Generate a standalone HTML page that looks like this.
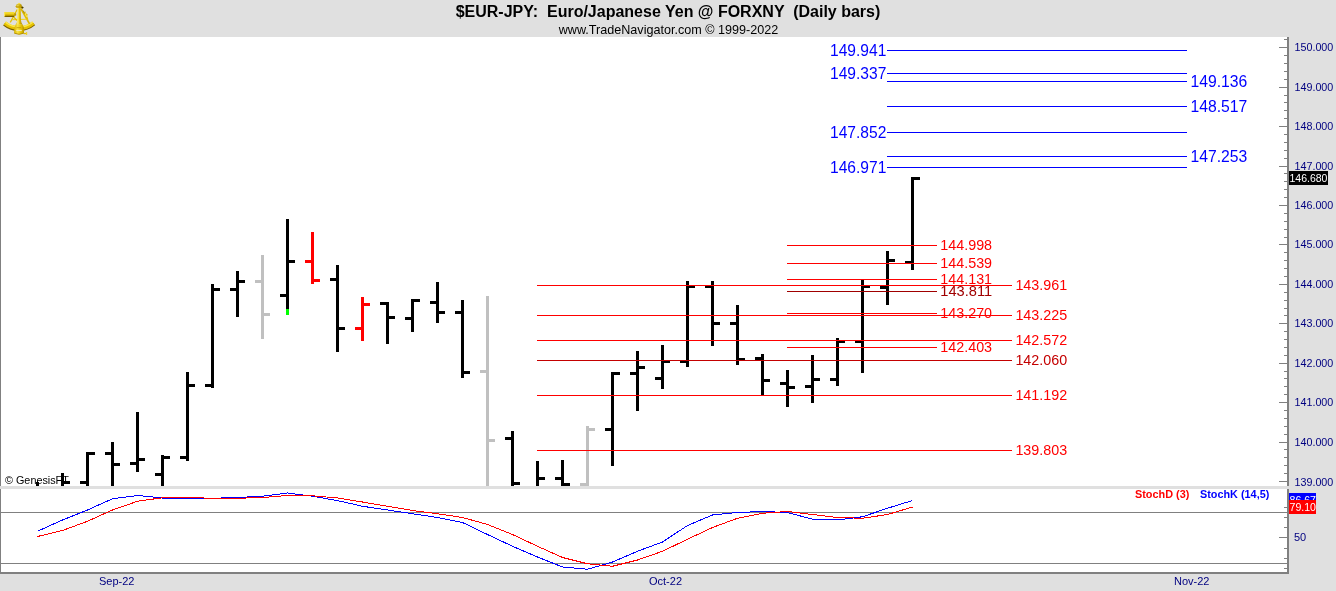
<!DOCTYPE html>
<html lang="en"><head><meta charset="utf-8"><title>$EUR-JPY: Euro/Japanese Yen @ FORXNY (Daily bars)</title>
<style>html,body{margin:0;padding:0;background:#e0e0e0;overflow:hidden}svg{display:block}text{font-family:"Liberation Sans", Arial, sans-serif}</style></head><body>
<svg width="1336" height="591" viewBox="0 0 1336 591">
<rect x="0" y="0" width="1336" height="591" fill="#e0e0e0"/>
<rect x="0" y="37" width="1288" height="536" fill="#fff"/>
<g shape-rendering="crispEdges">
<rect x="0" y="37" width="1" height="537" fill="#808080"/>
<rect x="1" y="512" width="1286" height="1" fill="#808080"/>
<rect x="1" y="563" width="1286" height="1" fill="#808080"/>
<g fill="#000">
<rect x="36" y="482" width="3" height="4"/>
</g>
<g fill="#000">
<rect x="61" y="473" width="3" height="13"/>
<rect x="64" y="481" width="6" height="3"/>
</g>
<g fill="#000">
<rect x="86" y="452" width="3" height="34"/>
<rect x="80" y="481" width="6" height="3"/>
<rect x="89" y="452" width="6" height="3"/>
</g>
<g fill="#000">
<rect x="111" y="442" width="3" height="44"/>
<rect x="105" y="452" width="6" height="3"/>
<rect x="114" y="463" width="6" height="3"/>
</g>
<g fill="#000">
<rect x="136" y="412" width="3" height="60"/>
<rect x="130" y="462" width="6" height="3"/>
<rect x="139" y="458" width="6" height="3"/>
</g>
<g fill="#000">
<rect x="161" y="455" width="3" height="31"/>
<rect x="155" y="473" width="6" height="3"/>
<rect x="164" y="456" width="6" height="3"/>
</g>
<g fill="#000">
<rect x="186" y="372" width="3" height="89"/>
<rect x="180" y="456" width="6" height="3"/>
<rect x="189" y="384" width="6" height="3"/>
</g>
<g fill="#000">
<rect x="211" y="284" width="3" height="104"/>
<rect x="205" y="384" width="6" height="3"/>
<rect x="214" y="288" width="6" height="3"/>
</g>
<g fill="#000">
<rect x="236" y="271" width="3" height="46"/>
<rect x="230" y="288" width="6" height="3"/>
<rect x="239" y="280" width="6" height="3"/>
</g>
<g fill="#c0c0c0">
<rect x="261" y="255" width="3" height="84"/>
<rect x="255" y="280" width="6" height="3"/>
<rect x="264" y="313" width="6" height="3"/>
</g>
<g fill="#000">
<rect x="286" y="219" width="3" height="96"/>
<rect x="280" y="294" width="6" height="3"/>
<rect x="289" y="260" width="6" height="3"/>
</g>
<g fill="#f00">
<rect x="311" y="232" width="3" height="52"/>
<rect x="305" y="260" width="6" height="3"/>
<rect x="314" y="279" width="6" height="3"/>
</g>
<g fill="#000">
<rect x="336" y="265" width="3" height="87"/>
<rect x="330" y="278" width="6" height="3"/>
<rect x="339" y="327" width="6" height="3"/>
</g>
<g fill="#f00">
<rect x="361" y="297" width="3" height="44"/>
<rect x="355" y="327" width="6" height="3"/>
<rect x="364" y="303" width="6" height="3"/>
</g>
<g fill="#000">
<rect x="386" y="302" width="3" height="42"/>
<rect x="380" y="302" width="6" height="3"/>
<rect x="389" y="316" width="6" height="3"/>
</g>
<g fill="#000">
<rect x="411" y="299" width="3" height="33"/>
<rect x="405" y="317" width="6" height="3"/>
<rect x="414" y="299" width="6" height="3"/>
</g>
<g fill="#000">
<rect x="436" y="282" width="3" height="41"/>
<rect x="430" y="301" width="6" height="3"/>
<rect x="439" y="311" width="6" height="3"/>
</g>
<g fill="#000">
<rect x="461" y="300" width="3" height="78"/>
<rect x="455" y="311" width="6" height="3"/>
<rect x="464" y="371" width="6" height="3"/>
</g>
<g fill="#c0c0c0">
<rect x="486" y="296" width="3" height="190"/>
<rect x="480" y="370" width="6" height="3"/>
<rect x="489" y="439" width="6" height="3"/>
</g>
<g fill="#000">
<rect x="511" y="431" width="3" height="55"/>
<rect x="505" y="437" width="6" height="3"/>
<rect x="514" y="482" width="6" height="3"/>
</g>
<g fill="#000">
<rect x="536" y="461" width="3" height="25"/>
<rect x="539" y="477" width="6" height="3"/>
</g>
<g fill="#000">
<rect x="561" y="460" width="3" height="26"/>
<rect x="555" y="477" width="6" height="3"/>
<rect x="564" y="483" width="6" height="3"/>
</g>
<g fill="#c0c0c0">
<rect x="586" y="426" width="3" height="60"/>
<rect x="580" y="483" width="6" height="3"/>
<rect x="589" y="428" width="6" height="3"/>
</g>
<g fill="#000">
<rect x="611" y="372" width="3" height="94"/>
<rect x="605" y="428" width="6" height="3"/>
<rect x="614" y="372" width="6" height="3"/>
</g>
<g fill="#000">
<rect x="636" y="351" width="3" height="60"/>
<rect x="630" y="372" width="6" height="3"/>
<rect x="639" y="366" width="6" height="3"/>
</g>
<g fill="#000">
<rect x="661" y="345" width="3" height="44"/>
<rect x="655" y="377" width="6" height="3"/>
<rect x="664" y="360" width="6" height="3"/>
</g>
<g fill="#000">
<rect x="686" y="281" width="3" height="86"/>
<rect x="680" y="360" width="6" height="3"/>
<rect x="689" y="285" width="6" height="3"/>
</g>
<g fill="#000">
<rect x="711" y="281" width="3" height="65"/>
<rect x="705" y="285" width="6" height="3"/>
<rect x="714" y="322" width="6" height="3"/>
</g>
<g fill="#000">
<rect x="736" y="305" width="3" height="60"/>
<rect x="730" y="322" width="6" height="3"/>
<rect x="739" y="358" width="6" height="3"/>
</g>
<g fill="#000">
<rect x="761" y="354" width="3" height="41"/>
<rect x="755" y="357" width="6" height="3"/>
<rect x="764" y="379" width="6" height="3"/>
</g>
<g fill="#000">
<rect x="786" y="370" width="3" height="37"/>
<rect x="780" y="382" width="6" height="3"/>
<rect x="789" y="386" width="6" height="3"/>
</g>
<g fill="#000">
<rect x="811" y="355" width="3" height="48"/>
<rect x="805" y="385" width="6" height="3"/>
<rect x="814" y="378" width="6" height="3"/>
</g>
<g fill="#000">
<rect x="836" y="338" width="3" height="48"/>
<rect x="830" y="378" width="6" height="3"/>
<rect x="839" y="340" width="6" height="3"/>
</g>
<g fill="#000">
<rect x="861" y="280" width="3" height="93"/>
<rect x="855" y="340" width="6" height="3"/>
<rect x="864" y="285" width="6" height="3"/>
</g>
<g fill="#000">
<rect x="886" y="251" width="3" height="54"/>
<rect x="880" y="286" width="6" height="3"/>
<rect x="889" y="259" width="6" height="3"/>
</g>
<g fill="#000">
<rect x="911" y="177" width="3" height="93"/>
<rect x="905" y="261" width="6" height="3"/>
<rect x="914" y="177" width="6" height="3"/>
</g>
<rect x="286" y="309" width="3" height="6" fill="#00ff00"/>
<rect x="887" y="50" width="300" height="1" fill="#00f"/>
<rect x="887" y="73" width="300" height="1" fill="#00f"/>
<rect x="887" y="81" width="300" height="1" fill="#00f"/>
<rect x="887" y="106" width="300" height="1" fill="#00f"/>
<rect x="887" y="132" width="300" height="1" fill="#00f"/>
<rect x="887" y="156" width="300" height="1" fill="#00f"/>
<rect x="887" y="167" width="300" height="1" fill="#00f"/>
<rect x="787" y="245" width="150" height="1" fill="#f00"/>
<rect x="787" y="263" width="150" height="1" fill="#f00"/>
<rect x="787" y="279" width="150" height="1" fill="#f00"/>
<rect x="787" y="291" width="150" height="1" fill="#a00000"/>
<rect x="787" y="313" width="150" height="1" fill="#f00"/>
<rect x="787" y="347" width="150" height="1" fill="#f00"/>
<rect x="537" y="285" width="475" height="1" fill="#f00"/>
<rect x="537" y="315" width="475" height="1" fill="#f00"/>
<rect x="537" y="340" width="475" height="1" fill="#f00"/>
<rect x="537" y="360" width="475" height="1" fill="#c40000"/>
<rect x="537" y="395" width="475" height="1" fill="#f00"/>
<rect x="537" y="450" width="475" height="1" fill="#f00"/>
<rect x="0" y="486" width="1336" height="3" fill="#e0e0e0"/>
<rect x="1287" y="37" width="2" height="449" fill="#808080"/>
<rect x="1287" y="489" width="2" height="85" fill="#808080"/>
<rect x="0" y="572" width="1289" height="2" fill="#808080"/>
<rect x="1279" y="47" width="8" height="1" fill="#808080"/>
<rect x="1284" y="55" width="3" height="1" fill="#808080"/>
<rect x="1284" y="63" width="3" height="1" fill="#808080"/>
<rect x="1284" y="71" width="3" height="1" fill="#808080"/>
<rect x="1284" y="79" width="3" height="1" fill="#808080"/>
<rect x="1279" y="87" width="8" height="1" fill="#808080"/>
<rect x="1284" y="95" width="3" height="1" fill="#808080"/>
<rect x="1284" y="102" width="3" height="1" fill="#808080"/>
<rect x="1284" y="110" width="3" height="1" fill="#808080"/>
<rect x="1284" y="118" width="3" height="1" fill="#808080"/>
<rect x="1279" y="126" width="8" height="1" fill="#808080"/>
<rect x="1284" y="134" width="3" height="1" fill="#808080"/>
<rect x="1284" y="142" width="3" height="1" fill="#808080"/>
<rect x="1284" y="150" width="3" height="1" fill="#808080"/>
<rect x="1284" y="158" width="3" height="1" fill="#808080"/>
<rect x="1279" y="166" width="8" height="1" fill="#808080"/>
<rect x="1284" y="173" width="3" height="1" fill="#808080"/>
<rect x="1284" y="181" width="3" height="1" fill="#808080"/>
<rect x="1284" y="189" width="3" height="1" fill="#808080"/>
<rect x="1284" y="197" width="3" height="1" fill="#808080"/>
<rect x="1279" y="205" width="8" height="1" fill="#808080"/>
<rect x="1284" y="213" width="3" height="1" fill="#808080"/>
<rect x="1284" y="221" width="3" height="1" fill="#808080"/>
<rect x="1284" y="229" width="3" height="1" fill="#808080"/>
<rect x="1284" y="237" width="3" height="1" fill="#808080"/>
<rect x="1279" y="244" width="8" height="1" fill="#808080"/>
<rect x="1284" y="252" width="3" height="1" fill="#808080"/>
<rect x="1284" y="260" width="3" height="1" fill="#808080"/>
<rect x="1284" y="268" width="3" height="1" fill="#808080"/>
<rect x="1284" y="276" width="3" height="1" fill="#808080"/>
<rect x="1279" y="284" width="8" height="1" fill="#808080"/>
<rect x="1284" y="292" width="3" height="1" fill="#808080"/>
<rect x="1284" y="300" width="3" height="1" fill="#808080"/>
<rect x="1284" y="308" width="3" height="1" fill="#808080"/>
<rect x="1284" y="315" width="3" height="1" fill="#808080"/>
<rect x="1279" y="323" width="8" height="1" fill="#808080"/>
<rect x="1284" y="331" width="3" height="1" fill="#808080"/>
<rect x="1284" y="339" width="3" height="1" fill="#808080"/>
<rect x="1284" y="347" width="3" height="1" fill="#808080"/>
<rect x="1284" y="355" width="3" height="1" fill="#808080"/>
<rect x="1279" y="363" width="8" height="1" fill="#808080"/>
<rect x="1284" y="371" width="3" height="1" fill="#808080"/>
<rect x="1284" y="378" width="3" height="1" fill="#808080"/>
<rect x="1284" y="386" width="3" height="1" fill="#808080"/>
<rect x="1284" y="394" width="3" height="1" fill="#808080"/>
<rect x="1279" y="402" width="8" height="1" fill="#808080"/>
<rect x="1284" y="410" width="3" height="1" fill="#808080"/>
<rect x="1284" y="418" width="3" height="1" fill="#808080"/>
<rect x="1284" y="426" width="3" height="1" fill="#808080"/>
<rect x="1284" y="434" width="3" height="1" fill="#808080"/>
<rect x="1279" y="442" width="8" height="1" fill="#808080"/>
<rect x="1284" y="449" width="3" height="1" fill="#808080"/>
<rect x="1284" y="457" width="3" height="1" fill="#808080"/>
<rect x="1284" y="465" width="3" height="1" fill="#808080"/>
<rect x="1284" y="473" width="3" height="1" fill="#808080"/>
<rect x="1279" y="481" width="8" height="1" fill="#808080"/>
<rect x="1284" y="39" width="3" height="1" fill="#808080"/>
<rect x="1284" y="507" width="3" height="1" fill="#808080"/>
<rect x="1284" y="517" width="3" height="1" fill="#808080"/>
<rect x="1284" y="527" width="3" height="1" fill="#808080"/>
<rect x="1279" y="537" width="8" height="1" fill="#808080"/>
<rect x="1284" y="548" width="3" height="1" fill="#808080"/>
<rect x="1284" y="558" width="3" height="1" fill="#808080"/>
<rect x="1284" y="568" width="3" height="1" fill="#808080"/>
<rect x="1289" y="171" width="39" height="14" fill="#000"/>
<rect x="1289" y="493" width="27" height="13" fill="#00f"/>
<rect x="1289" y="500" width="27" height="14" fill="#f00"/>
</g>
<polyline fill="none" stroke="#00f" stroke-width="1" shape-rendering="crispEdges" points="37.50,531.25 62.50,520.00 87.50,510.00 112.50,498.75 137.50,495.50 162.50,498.00 187.50,498.00 212.50,498.25 237.50,497.50 262.50,496.25 287.50,493.00 312.50,496.25 337.50,500.60 362.50,506.25 387.50,510.00 412.50,513.75 437.50,517.50 462.50,522.50 487.50,534.50 512.50,546.25 537.50,557.00 562.50,567.00 587.50,569.25 612.50,562.00 637.50,551.25 662.50,542.00 687.50,525.50 712.50,515.00 737.50,512.50 762.50,511.50 787.50,512.50 812.50,519.25 837.50,520.00 862.50,516.75 887.50,508.25 912.50,500.50"/>
<polyline fill="none" stroke="#f00" stroke-width="1" shape-rendering="crispEdges" points="37.50,536.50 62.50,530.50 87.50,521.25 112.50,510.00 137.50,501.25 162.50,497.75 187.50,497.50 212.50,498.25 237.50,498.25 262.50,497.50 287.50,495.50 312.50,495.75 337.50,498.00 362.50,502.00 387.50,506.25 412.50,510.50 437.50,513.75 462.50,517.50 487.50,524.50 512.50,534.50 537.50,546.25 562.50,557.50 587.50,563.75 612.50,566.25 637.50,560.00 662.50,551.25 687.50,539.25 712.50,527.50 737.50,518.25 762.50,513.25 787.50,511.50 812.50,514.50 837.50,517.50 862.50,518.25 887.50,514.50 912.50,507.00"/>
<text x="668" y="17" font-size="16" font-weight="bold" text-anchor="middle" fill="#000" xml:space="preserve" style="white-space:pre">$EUR-JPY:  Euro/Japanese Yen @ FORXNY  (Daily bars)</text>
<text x="668.5" y="34" font-size="12.6" text-anchor="middle" fill="#000">www.TradeNavigator.com © 1999-2022</text>
<text x="830" y="56" font-size="16" fill="#00f" textLength="56.3" lengthAdjust="spacingAndGlyphs">149.941</text>
<text x="830" y="79" font-size="16" fill="#00f" textLength="56.3" lengthAdjust="spacingAndGlyphs">149.337</text>
<text x="1190.5" y="87" font-size="16" fill="#00f" textLength="56.8" lengthAdjust="spacingAndGlyphs">149.136</text>
<text x="1190.5" y="112" font-size="16" fill="#00f" textLength="56.8" lengthAdjust="spacingAndGlyphs">148.517</text>
<text x="830" y="138" font-size="16" fill="#00f" textLength="56.3" lengthAdjust="spacingAndGlyphs">147.852</text>
<text x="1190.5" y="162" font-size="16" fill="#00f" textLength="56.8" lengthAdjust="spacingAndGlyphs">147.253</text>
<text x="830" y="173" font-size="16" fill="#00f" textLength="56.3" lengthAdjust="spacingAndGlyphs">146.971</text>
<text x="940.3" y="250" font-size="14" fill="#f00" textLength="51.8" lengthAdjust="spacingAndGlyphs">144.998</text>
<text x="940.3" y="268" font-size="14" fill="#f00" textLength="51.8" lengthAdjust="spacingAndGlyphs">144.539</text>
<text x="940.3" y="284" font-size="14" fill="#f00" textLength="51.8" lengthAdjust="spacingAndGlyphs">144.131</text>
<text x="940.3" y="296" font-size="14" fill="#a00000" textLength="51.8" lengthAdjust="spacingAndGlyphs">143.811</text>
<text x="940.3" y="318" font-size="14" fill="#f00" textLength="51.8" lengthAdjust="spacingAndGlyphs">143.270</text>
<text x="940.3" y="352" font-size="14" fill="#f00" textLength="51.8" lengthAdjust="spacingAndGlyphs">142.403</text>
<text x="1015.4" y="290" font-size="14" fill="#f00" textLength="51.8" lengthAdjust="spacingAndGlyphs">143.961</text>
<text x="1015.4" y="320" font-size="14" fill="#f00" textLength="51.8" lengthAdjust="spacingAndGlyphs">143.225</text>
<text x="1015.4" y="345" font-size="14" fill="#f00" textLength="51.8" lengthAdjust="spacingAndGlyphs">142.572</text>
<text x="1015.4" y="365" font-size="14" fill="#c40000" textLength="51.8" lengthAdjust="spacingAndGlyphs">142.060</text>
<text x="1015.4" y="400" font-size="14" fill="#f00" textLength="51.8" lengthAdjust="spacingAndGlyphs">141.192</text>
<text x="1015.4" y="455" font-size="14" fill="#f00" textLength="51.8" lengthAdjust="spacingAndGlyphs">139.803</text>
<text x="1294.5" y="486" font-size="11" fill="#000080" textLength="38.8" lengthAdjust="spacingAndGlyphs">139.000</text>
<text x="1294.5" y="446" font-size="11" fill="#000080" textLength="38.8" lengthAdjust="spacingAndGlyphs">140.000</text>
<text x="1294.5" y="406" font-size="11" fill="#000080" textLength="38.8" lengthAdjust="spacingAndGlyphs">141.000</text>
<text x="1294.5" y="367" font-size="11" fill="#000080" textLength="38.8" lengthAdjust="spacingAndGlyphs">142.000</text>
<text x="1294.5" y="327" font-size="11" fill="#000080" textLength="38.8" lengthAdjust="spacingAndGlyphs">143.000</text>
<text x="1294.5" y="288" font-size="11" fill="#000080" textLength="38.8" lengthAdjust="spacingAndGlyphs">144.000</text>
<text x="1294.5" y="248" font-size="11" fill="#000080" textLength="38.8" lengthAdjust="spacingAndGlyphs">145.000</text>
<text x="1294.5" y="209" font-size="11" fill="#000080" textLength="38.8" lengthAdjust="spacingAndGlyphs">146.000</text>
<text x="1294.5" y="170" font-size="11" fill="#000080" textLength="38.8" lengthAdjust="spacingAndGlyphs">147.000</text>
<text x="1294.5" y="130" font-size="11" fill="#000080" textLength="38.8" lengthAdjust="spacingAndGlyphs">148.000</text>
<text x="1294.5" y="91" font-size="11" fill="#000080" textLength="38.8" lengthAdjust="spacingAndGlyphs">149.000</text>
<text x="1294.5" y="51" font-size="11" fill="#000080" textLength="38.8" lengthAdjust="spacingAndGlyphs">150.000</text>
<text x="1294" y="541" font-size="11" fill="#000080">50</text>
<rect x="1289" y="171" width="39" height="14" fill="#000" shape-rendering="crispEdges"/>
<text x="1289.5" y="182" font-size="11" fill="#fff" textLength="37.9" lengthAdjust="spacingAndGlyphs">146.680</text>
<text x="1289.5" y="504" font-size="11" fill="#fff" textLength="26.5" lengthAdjust="spacingAndGlyphs">86.67</text>
<rect x="1289" y="500" width="27" height="14" fill="#f00" shape-rendering="crispEdges"/>
<text x="1289.5" y="511" font-size="11" fill="#fff" textLength="26.5" lengthAdjust="spacingAndGlyphs">79.10</text>
<text x="1135" y="498" font-size="11" font-weight="bold" fill="#f00" textLength="54.3" lengthAdjust="spacingAndGlyphs">StochD (3)</text>
<text x="1200" y="498" font-size="11" font-weight="bold" fill="#00f" textLength="69.3" lengthAdjust="spacingAndGlyphs">StochK (14,5)</text>
<text x="5" y="484" font-size="11" fill="#000" textLength="63.8" lengthAdjust="spacingAndGlyphs">© GenesisFT</text>
<text x="99" y="585" font-size="11" fill="#000080">Sep-22</text>
<text x="649" y="585" font-size="11" fill="#000080">Oct-22</text>
<text x="1174" y="585" font-size="11" fill="#000080">Nov-22</text>
<defs>
<linearGradient id="gTel" x1="0" y1="0" x2="0" y2="1"><stop offset="0" stop-color="#f3dc3c"/><stop offset="0.3" stop-color="#f2d620"/><stop offset="0.62" stop-color="#d8b200"/><stop offset="0.85" stop-color="#8c7000"/><stop offset="1" stop-color="#5a4600"/></linearGradient>
<linearGradient id="gArm" x1="0" y1="0" x2="1" y2="0"><stop offset="0" stop-color="#cfa900"/><stop offset="0.32" stop-color="#fff27a"/><stop offset="0.55" stop-color="#e9c400"/><stop offset="1" stop-color="#9a7a00"/></linearGradient>
<linearGradient id="gBlk" x1="0" y1="0" x2="1" y2="0"><stop offset="0" stop-color="#d8b200"/><stop offset="0.35" stop-color="#f7e040"/><stop offset="0.7" stop-color="#e6c200"/><stop offset="1" stop-color="#b89400"/></linearGradient>
</defs>
<g id="sextant">
<!-- limb arc -->
<path d="M4.5,23.7 A23.1,23.1 0 0 0 33.7,23.6" fill="none" stroke="#7a6000" stroke-width="4.4"/>
<path d="M4.8,23.1 A22.7,22.7 0 0 0 33.4,23" fill="none" stroke="#e6c200" stroke-width="3.9"/>
<path d="M5.5,22.2 A21.8,21.8 0 0 0 32.7,22.1" fill="none" stroke="#fbe84e" stroke-width="1.5"/>
<!-- frame legs -->
<path d="M17.2,9.5 L10.3,22.4" stroke="#e2be00" stroke-width="1.2" fill="none"/>
<path d="M20.9,8.5 L29.6,24" stroke="#dcb800" stroke-width="1.6" fill="none"/>
<path d="M11.8,19.6 L27.6,19.2" stroke="#ecd02a" stroke-width="1.1" fill="none"/>
<path d="M13.2,16.5 L17,20.5" stroke="#e2be00" stroke-width="1.1" fill="none"/>
<!-- mirror / shades at right -->
<path d="M23.8,12.4 L25.2,11.2 L26.2,13.4 L27.6,14.2 L27.2,16.2 L28.4,19.4 L26.6,19.8 L25.2,16 Z" fill="#e4c000"/>
<path d="M24.8,12.4 L26.6,16.8" stroke="#fff080" stroke-width="0.8" fill="none"/>
<path d="M23.2,10.6 L24.6,13.6" stroke="#8a6c00" stroke-width="0.7" fill="none"/>
<!-- shadow near top -->
<path d="M21,5.4 L23.8,7.6 L22.6,8.8 L20.6,7.6 Z" fill="#4a3c00"/>
<!-- telescope -->
<rect x="4" y="12" width="10.6" height="4.9" rx="0.8" fill="url(#gTel)"/>
<rect x="4" y="12.2" width="1.1" height="4.2" rx="0.5" fill="#f8e45a"/>
<path d="M14.4,13 L16.2,13.4 L16.2,15.6 L14.4,16 Z" fill="#b89400"/>
<!-- index arm -->
<path d="M19,2.8 L21.2,4.6 L22,6.4 L20.6,7.8 L21,20.5 Q21.3,23.5 22.6,24.6 L15.6,24.6 Q17,23.5 17.1,20.5 L17.5,7.8 L15.6,6.6 L16.4,4.8 Z" fill="url(#gArm)"/>
<path d="M15.4,6.2 L22.2,6.2 L21.2,7.7 L16.4,7.7 Z" fill="#c29c00"/>
<path d="M19,2.8 L21,4.6 L17,4.8 Z" fill="#f6e050"/>
<path d="M16.6,4.9 L21.4,4.9" stroke="#a08000" stroke-width="0.6"/>
<!-- lower block -->
<path d="M15.8,24.2 L22.4,24.2 L24,27.6 L24,33.3 Q19,35.6 14.1,33.3 L14.4,27.6 Z" fill="url(#gBlk)"/>
<rect x="16.2" y="29.9" width="5.6" height="1.2" fill="#f3eab0"/>
<rect x="16.6" y="27.4" width="4.4" height="0.7" fill="#b89400"/>
<path d="M14.3,33.2 Q19,35.4 23.9,33.2" fill="none" stroke="#a88600" stroke-width="0.8"/>
<!-- knob -->
<rect x="23.8" y="32.9" width="2.6" height="1.3" fill="#e2bc00"/>
<rect x="26" y="32" width="1.2" height="3.1" rx="0.3" fill="#ecd028"/>
</g>

</svg></body></html>
